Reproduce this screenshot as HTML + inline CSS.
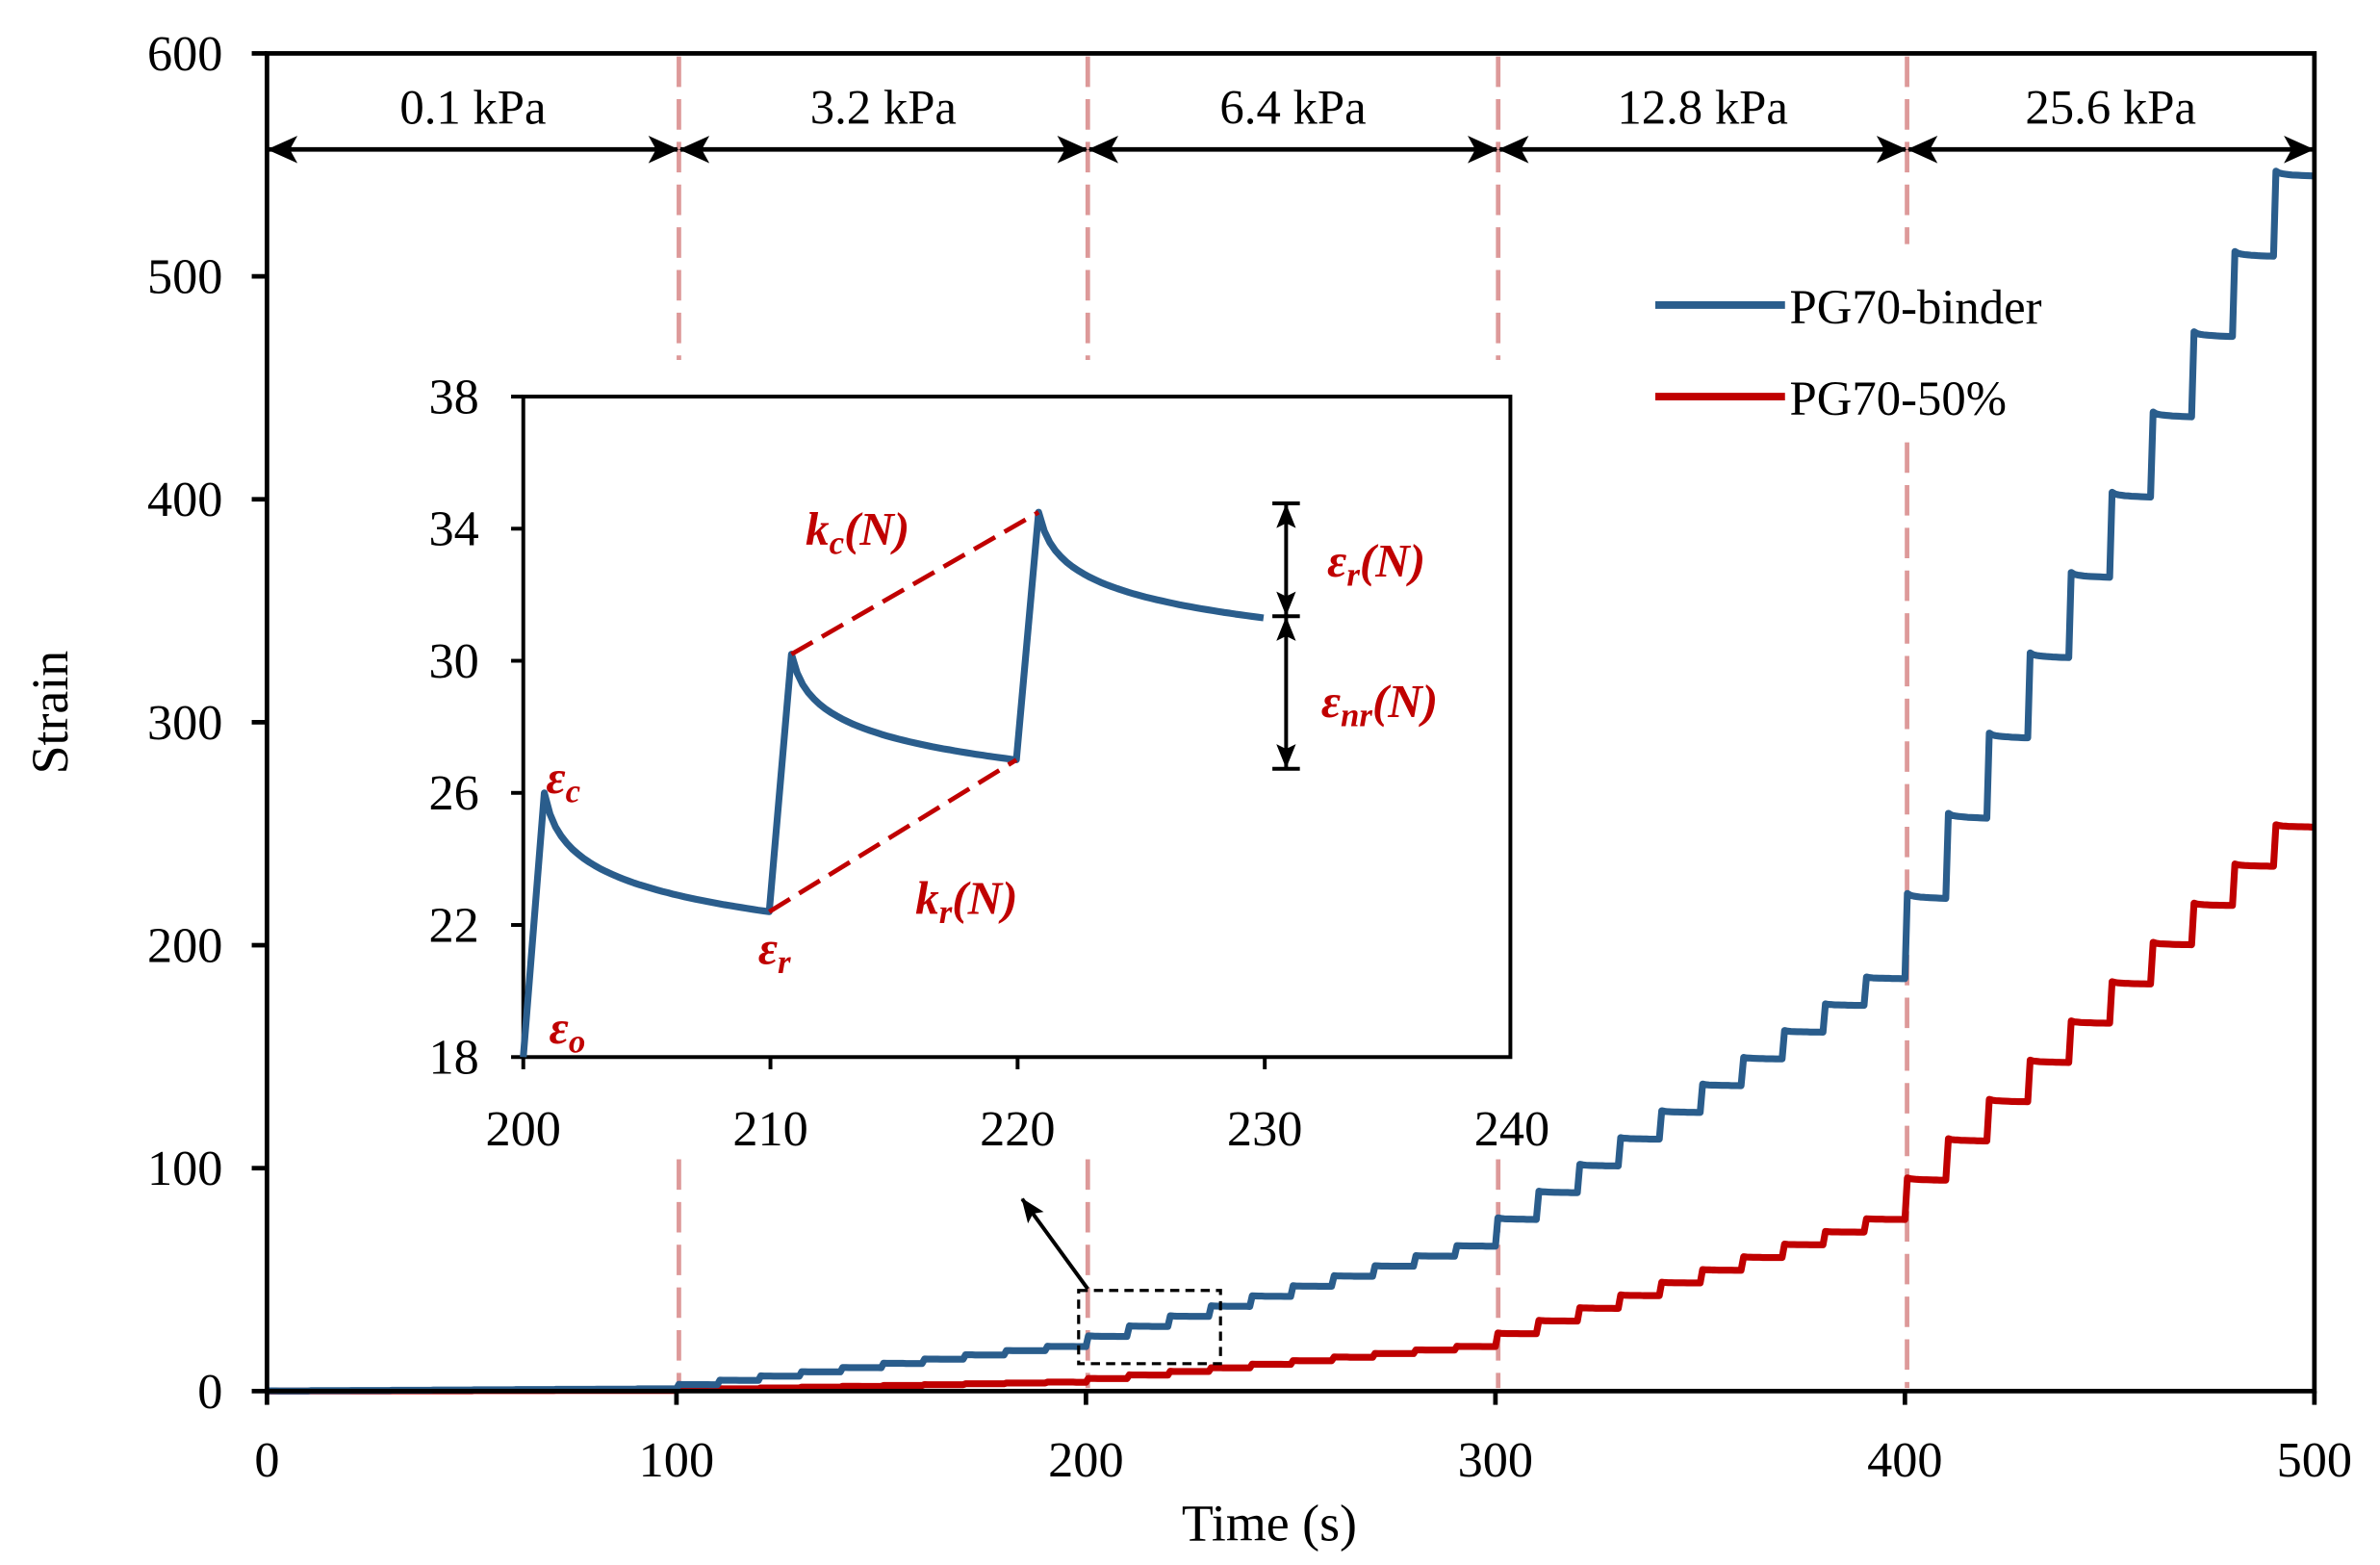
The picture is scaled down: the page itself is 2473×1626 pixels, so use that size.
<!DOCTYPE html>
<html><head><meta charset="utf-8"><style>
html,body{margin:0;padding:0;background:#fff}
svg{display:block}
text{font-family:"Liberation Serif",serif;fill:#000}
</style></head><body>
<svg id="s" width="2473" height="1626" viewBox="0 0 1560 1026" preserveAspectRatio="none" xmlns="http://www.w3.org/2000/svg">
<defs>
<marker id="ah" viewBox="0 0 20 20" refX="19" refY="10" markerWidth="20" markerHeight="20" markerUnits="userSpaceOnUse" orient="auto-start-reverse">
<path d="M0,1 L20,10 L0,19 L5,10 Z" fill="#000"/></marker>
<marker id="ah2" viewBox="0 0 20 20" refX="19" refY="10" markerWidth="16" markerHeight="16" markerUnits="userSpaceOnUse" orient="auto-start-reverse">
<path d="M0,2 L20,10 L0,18 L4,10 Z" fill="#000"/></marker>
</defs>
<g id="g"></g>
</svg>
<script>
const g=document.getElementById('g');let h='';
const X=t=>175+t*(1342/500), Y=v=>912-v*(877/600);
const pink='stroke="#dd9999" stroke-width="3" stroke-dasharray="20,8" fill="none"';
[445,713].forEach(x=>{h+=`<line x1="${x}" y1="37" x2="${x}" y2="236" ${pink}/><line x1="${x}" y1="760" x2="${x}" y2="910" ${pink}/>`;});
h+=`<line x1="982" y1="37" x2="982" y2="236" ${pink}/><line x1="982" y1="760" x2="982" y2="910" ${pink}/>`;
h+=`<line x1="1250" y1="37" x2="1250" y2="160" ${pink}/><line x1="1250" y1="290" x2="1250" y2="910" ${pink}/>`;
function series(ends,rf){
 let d=`M${X(0)},${Y(0)}`;let s=0;
 for(let n=0;n<50;n++){const t0=n*10,e=ends(n+1),st=e-s,pk=e+st*rf;
  d+=` L${X(t0+0.6).toFixed(1)},${Y(pk).toFixed(1)}`;
  for(let k=1;k<=12;k++){const tau=k/12*9;const f=1-Math.log(1+4*tau)/Math.log(1+36);
   d+=` L${X(t0+0.6+tau*(9.4/9)).toFixed(1)},${Y(e+(pk-e)*f).toFixed(1)}`;}
  s=e;}
 return d;}
function mk(stages){return n=>{const st=Math.floor((n-1)/10);const i=((n-1)%10)+1;const a=stages[st],b=stages[st+1];return a+(b-a)*i/10;};}
const blueEnds=mk([0,1,20,65,185,545]);
const redEnds=mk([0,0.3,4,20,77,253]);
h+=`<path d="${series(redEnds,0.06)}" stroke="#c00000" stroke-width="4.5" fill="none" stroke-linejoin="round"/>`;
h+=`<path d="${series(blueEnds,0.06)}" stroke="#2a5d8c" stroke-width="4.5" fill="none" stroke-linejoin="round"/>`;
h+=`<rect x="175" y="35" width="1342" height="877" fill="none" stroke="#000" stroke-width="3"/>`;
for(let v=0;v<=600;v+=100){const y=Y(v);h+=`<line x1="165" y1="${y}" x2="175" y2="${y}" stroke="#000" stroke-width="3"/><text x="146" y="${y+11}" font-size="33" text-anchor="end">${v}</text>`;}
for(let t=0;t<=500;t+=100){const x=X(t);h+=`<line x1="${x}" y1="912" x2="${x}" y2="921" stroke="#000" stroke-width="3"/><text x="${x}" y="968" font-size="33" text-anchor="middle">${t}</text>`;}
h+=`<text x="832" y="1010" font-size="34" text-anchor="middle">Time  (s)</text>`;
h+=`<text transform="translate(44,467) rotate(-90)" font-size="34" text-anchor="middle">Strain</text>`;
const bx=[175,445,713,982,1250,1517],lab=['0.1 kPa','3.2 kPa','6.4 kPa','12.8 kPa','25.6 kPa'];
for(let i=0;i<5;i++){h+=`<line x1="${bx[i]+1}" y1="98" x2="${bx[i+1]-1}" y2="98" stroke="#000" stroke-width="3" marker-start="url(#ah)" marker-end="url(#ah)"/><text x="${(bx[i]+bx[i+1])/2}" y="81" font-size="32" text-anchor="middle">${lab[i]}</text>`;}
h+=`<line x1="1085" y1="200" x2="1170" y2="200" stroke="#2a5d8c" stroke-width="5"/><text x="1173" y="212" font-size="32">PG70-binder</text>`;
h+=`<line x1="1085" y1="260" x2="1170" y2="260" stroke="#c00000" stroke-width="5"/><text x="1173" y="272" font-size="32">PG70-50%</text>`;
h+=`<rect x="707" y="846" width="93" height="48" fill="none" stroke="#000" stroke-width="2" stroke-dasharray="6,4"/>`;
h+=`<line x1="713" y1="845" x2="670" y2="786" stroke="#000" stroke-width="2.5" marker-end="url(#ah2)"/>`;
const IX=t=>343+(t-200)*16.2, IY=v=>693-(v-18)*(433/20);
h+=`<rect x="343" y="260" width="647" height="433" fill="#fff" stroke="#000" stroke-width="2.5"/>`;
for(let v=18;v<=38;v+=4){const y=IY(v);h+=`<line x1="335" y1="${y}" x2="343" y2="${y}" stroke="#000" stroke-width="2.5"/><text x="314" y="${y+11}" font-size="33" text-anchor="end">${v}</text>`;}
for(let t=200;t<=240;t+=10){const x=IX(t);if(t<240)h+=`<line x1="${x}" y1="693" x2="${x}" y2="701" stroke="#000" stroke-width="2.5"/>`;h+=`<text x="${x}" y="751" font-size="33" text-anchor="middle">${t}</text>`;}
let d=`M${IX(200)},${IY(18)}`;
const cyc=[[200,26,22.4],[210,30.2,27.0],[220,34.5,31.3]];
cyc.forEach(([t0,pk,e],i)=>{d+=` L${IX(t0+0.85)},${IY(pk)}`;for(let k=1;k<=40;k++){const tau=k/40*9.1;const f=1-Math.log(1+4*tau)/Math.log(1+4*9.1);d+=` L${IX(t0+0.85+tau).toFixed(1)},${IY(e+(pk-e)*f).toFixed(1)}`;}});
h+=`<path d="${d}" stroke="#2a5d8c" stroke-width="4.5" fill="none" stroke-linejoin="round"/>`;
const rd='stroke="#c00000" stroke-width="3" stroke-dasharray="16,7"';
h+=`<line x1="${IX(210.85)}" y1="${IY(30.2)}" x2="${IX(220.85)}" y2="${IY(34.5)}" ${rd}/>`;
h+=`<line x1="${IX(209.95)}" y1="${IY(22.4)}" x2="${IX(219.95)}" y2="${IY(27.0)}" ${rd}/>`;
const R='font-weight="bold" font-style="italic" font-size="31" style="fill:#c00000"';
h+=`<text x="528" y="357" ${R}>k<tspan font-size="22" dy="6">c</tspan><tspan dy="-6">(N)</tspan></text>`;
h+=`<text x="600" y="599" ${R}>k<tspan font-size="22" dy="6">r</tspan><tspan dy="-6">(N)</tspan></text>`;
h+=`<text x="358" y="520" ${R}>ε<tspan font-size="22" dy="6">c</tspan></text>`;
h+=`<text x="497" y="632" ${R}>ε<tspan font-size="22" dy="6">r</tspan></text>`;
h+=`<text x="360" y="684" ${R}>ε<tspan font-size="22" dy="6">o</tspan></text>`;
h+=`<text x="870" y="378" ${R}>ε<tspan font-size="22" dy="6">r</tspan><tspan dy="-6">(N)</tspan></text>`;
h+=`<text x="866" y="470" ${R}>ε<tspan font-size="22" dy="6">nr</tspan><tspan dy="-6">(N)</tspan></text>`;
[330,404,504].forEach(y=>{h+=`<line x1="834" y1="${y}" x2="852" y2="${y}" stroke="#000" stroke-width="2.5"/>`;});
h+=`<line x1="843" y1="331" x2="843" y2="403" stroke="#000" stroke-width="2.5" marker-start="url(#ah2)" marker-end="url(#ah2)"/>`;
h+=`<line x1="843" y1="405" x2="843" y2="503" stroke="#000" stroke-width="2.5" marker-start="url(#ah2)" marker-end="url(#ah2)"/>`;
g.innerHTML=h;
</script>
</body></html>
